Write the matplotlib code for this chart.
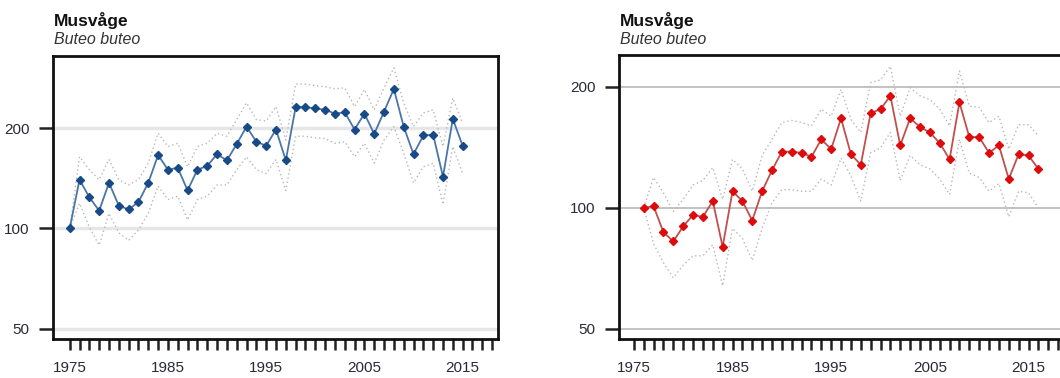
import numpy as np
import matplotlib.pyplot as plt
from matplotlib.ticker import FixedLocator, NullLocator

plt.rcParams['font.family'] = ['Liberation Sans', 'DejaVu Sans']

# Index values (first year = 100) with upper / lower confidence bounds
years_a = list(range(1975, 2016))
index_a = [100, 140, 124, 113, 137, 117, 114, 120, 137, 166,
           150, 152, 130, 150, 154, 167, 160, 179, 202, 182,
           177, 198, 160, 231, 231, 229, 227, 221, 223, 198,
           221, 192, 224, 262, 202, 167, 190, 191, 143, 213, 177]
upper_a = [100, 164, 150, 140, 161, 140, 135, 140, 157, 193,
           176, 180, 153, 176, 180, 193, 189, 212, 238, 212,
           210, 232, 184, 271, 271, 268, 266, 262, 264, 232,
           261, 227, 264, 303, 238, 202, 222, 227, 176, 246, 207]
lower_a = [100, 119, 101, 89, 111, 97, 92, 99, 111, 134,
           122, 125, 106, 122, 125, 135, 135, 150, 164, 150,
           146, 161, 130, 189, 189, 187, 186, 180, 182, 164,
           180, 157, 184, 202, 168, 137, 153, 157, 118, 176, 146]

years_b = list(range(1976, 2017))
index_b = [100, 101, 87, 82.5, 90, 96, 95, 104, 80, 110,
           104, 93, 110, 124, 138, 138, 137, 134, 148, 140,
           167, 136, 128, 172, 176, 190, 143, 167, 159, 154,
           145, 132, 183, 150, 150, 137, 143, 118, 136, 135, 125]
upper_b = [100, 119, 109, 98, 105, 114, 117, 126, 105, 132,
           125, 110, 135, 148, 163, 165, 163, 160, 176, 169,
           197, 166, 154, 205, 208, 225, 169, 199, 190, 186,
           176, 160, 219, 179, 178, 163, 169, 140, 161, 161, 151]
lower_b = [100, 81.5, 73, 67, 72, 76, 76, 81, 64, 89,
           84, 74, 89, 103, 111, 111, 110, 110, 118, 114,
           133, 120, 104, 137, 141, 154, 117, 135, 128, 125,
           118, 108, 148, 122, 119, 110, 115, 95, 110, 109, 100]

y_ticks = [50, 100, 200]
x_labels = [1975, 1985, 1995, 2005, 2015]
x_ticks = list(range(1975, 2019))

fig = plt.figure(figsize=(10.6, 3.78), dpi=100)


def panel(rect, years, idx, up, lo, line_col, mark_col, grid_col, grid_lw, ylim, xlim):
    ax = fig.add_axes(rect)
    ax.set_yscale('log')
    for v in y_ticks:
        ax.axhline(v, color=grid_col, lw=grid_lw, zorder=0)
    ax.plot(years, up, ls=(0, (1, 2)), color='#b8b8b8', lw=1.0, zorder=1)
    ax.plot(years, lo, ls=(0, (1, 2)), color='#b8b8b8', lw=1.0, zorder=1)
    ax.plot(years, idx, color=line_col, lw=1.3, zorder=2)
    ax.plot(years, idx, ls='none', marker='D', ms=4.0, color=mark_col, zorder=3)
    ax.set_ylim(*ylim)
    ax.set_xlim(*xlim)
    ax.yaxis.set_major_locator(FixedLocator(y_ticks))
    ax.yaxis.set_minor_locator(NullLocator())
    ax.set_yticklabels([str(v) for v in y_ticks])
    ax.xaxis.set_major_locator(FixedLocator(x_ticks))
    ax.set_xticklabels([str(y) if y in x_labels else '' for y in x_ticks])
    ax.tick_params(axis='both', direction='out', width=1.8, color='#222222',
                   labelsize=11, labelcolor='#2a2a38')
    ax.tick_params(axis='y', length=10, pad=7)
    ax.tick_params(axis='x', length=8, pad=8)
    for s in ax.spines.values():
        s.set_linewidth(2.0)
        s.set_color('#111111')
    return ax


ax1 = panel([0.05, 0.1032, 0.4198, 0.7487], years_a, index_a, upper_a, lower_a,
            '#4a76a8', '#174a87', '#e6e6e6', 2.5, (46.6, 329), (1973.3, 2018.6))
ax2 = panel([0.584, 0.1032, 0.4198, 0.7513], years_b, index_b, upper_b, lower_b,
            '#c0504d', '#dd0b0b', '#bdbdbd', 1.3, (47.2, 240), (1973.5, 2018.6))

for x in (0.051, 0.585):
    fig.text(x, 0.931, 'Musvåge', fontsize=12.5, fontweight='bold', color='#111111')
    fig.text(x, 0.884, 'Buteo buteo', fontsize=11.5, style='italic', color='#333333')

fig.savefig('out.png', dpi=100)
